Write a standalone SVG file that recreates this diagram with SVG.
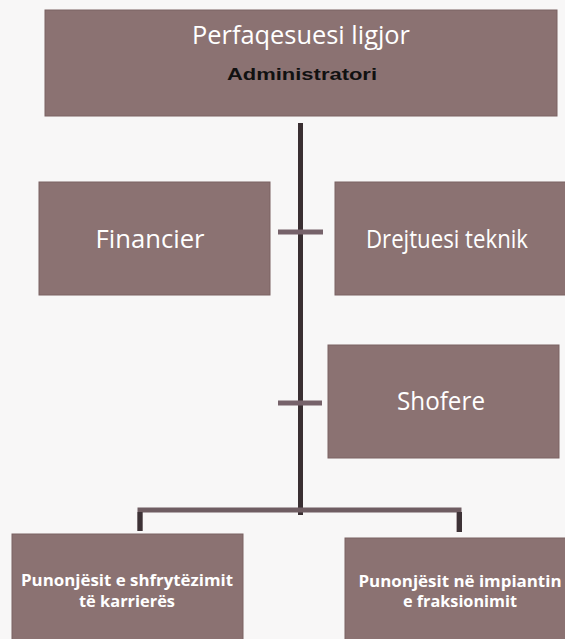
<svg xmlns="http://www.w3.org/2000/svg" width="565" height="639" viewBox="0 0 565 639">
  <style>
    .box { fill: #8b7272; stroke: #7a6263; stroke-width: 1; }
    .lbl { font-family: "Open Sans", "Noto Sans", sans-serif; fill: #ffffff; text-anchor: middle; }
    .big { font-size: 25px; }
    .small { font-size: 16px; font-weight: bold; }
    .admin { font-family: "Liberation Sans", Arial, sans-serif; font-size: 17px; font-weight: bold; fill: #111111; text-anchor: middle; }
    .trunk { stroke: #3a2f32; stroke-width: 5; fill: none; }
    .tick { stroke: #76626a; stroke-width: 5; fill: none; }
    .brk { stroke: #6f5d62; stroke-width: 5; fill: none; }
    .drop { stroke: #3d3236; stroke-width: 5; fill: none; }
  </style>
  <rect x="0" y="0" width="565" height="639" fill="#f8f7f7"/>

  <g id="connectors">
    <line class="trunk" x1="300.5" y1="123" x2="300.5" y2="515"/>
    <line class="tick" x1="278" y1="232" x2="323" y2="232"/>
    <line class="tick" x1="278" y1="403" x2="322" y2="403"/>
    <polyline class="brk" points="140,531 140,510 459,510 459,532"/>
    <line class="drop" x1="140" y1="512" x2="140" y2="531"/>
    <line class="drop" x1="459.5" y1="512" x2="459.5" y2="532"/>
  </g>

  <g id="node-top">
    <rect class="box" x="45" y="10" width="512" height="106"/>
    <text class="lbl big" x="301" y="44" textLength="218" lengthAdjust="spacingAndGlyphs">Perfaqesuesi ligjor</text>
    <text class="admin" x="302" y="80" textLength="150" lengthAdjust="spacingAndGlyphs">Administratori</text>
  </g>

  <g id="node-financier">
    <rect class="box" x="39" y="182" width="231" height="113"/>
    <text class="lbl big" x="150" y="248" textLength="109" lengthAdjust="spacingAndGlyphs">Financier</text>
  </g>

  <g id="node-drejtuesi">
    <rect class="box" x="335" y="182" width="235" height="113"/>
    <text class="lbl big" x="447" y="248" textLength="162" lengthAdjust="spacingAndGlyphs">Drejtuesi teknik</text>
  </g>

  <g id="node-shofere">
    <rect class="box" x="328" y="345" width="231" height="113"/>
    <text class="lbl big" x="441" y="410" textLength="88" lengthAdjust="spacingAndGlyphs">Shofere</text>
  </g>

  <g id="node-karriera">
    <rect class="box" x="12" y="534" width="231" height="110"/>
    <text class="lbl small" x="127" y="586" textLength="212" lengthAdjust="spacingAndGlyphs">Punonjësit e shfrytëzimit</text>
    <text class="lbl small" x="127" y="607" textLength="96" lengthAdjust="spacingAndGlyphs">të karrierës</text>
  </g>

  <g id="node-impianti">
    <rect class="box" x="345" y="538" width="225" height="106"/>
    <text class="lbl small" x="460" y="587" textLength="203" lengthAdjust="spacingAndGlyphs">Punonjësit në impiantin</text>
    <text class="lbl small" x="460" y="607" textLength="114" lengthAdjust="spacingAndGlyphs">e fraksionimit</text>
  </g>
</svg>
